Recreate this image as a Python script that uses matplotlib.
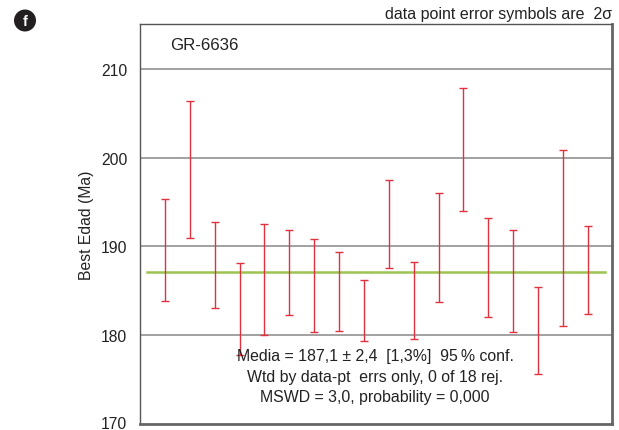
import matplotlib
matplotlib.use("Agg")
import matplotlib.pyplot as plt
from matplotlib.patches import Ellipse
from matplotlib.transforms import ScaledTranslation

plt.rcParams['font.family'] = ['Liberation Sans', 'DejaVu Sans']

# Data (2-sigma error bars)
grain = list(range(1, 19))
ages = [189.6, 198.7, 187.95, 182.95, 186.25, 187.1, 185.65, 184.95, 182.8,
        192.55, 183.9, 189.9, 200.95, 187.65, 186.15, 180.5, 190.95, 187.35]
err2s = [5.7, 7.7, 4.85, 5.15, 6.25, 4.8, 5.25, 4.45, 3.4,
         4.95, 4.3, 6.1, 6.95, 5.55, 5.75, 4.9, 9.95, 4.95]
mean_age = 187.1
yticks = [170, 180, 190, 200, 210]
sample = "GR-6636"
stats_lines = ["Media = 187,1 \u00b1 2,4  [1,3%]  95\u2009% conf.",
               "Wtd by data-pt  errs only, 0 of 18 rej.",
               "MSWD = 3,0, probability = 0,000"]

fig = plt.figure(figsize=(6.19, 4.31), dpi=100)
ax = fig.add_axes([140/619, 6/431, 472/619, 400/431])

ax.set_xlim(0, 18.97)
ax.set_ylim(170, 215.07)

for yv in yticks[1:]:
    ax.axhline(yv, color='#9a9a9a', lw=1.3, zorder=1)

ax.plot([0.28, 18.7], [mean_age, mean_age], color='#9cc450', lw=1.8, zorder=2)

ax.errorbar(grain, ages, yerr=err2s, fmt='none', ecolor='#e0313f',
            elinewidth=1.0, capsize=3.0, capthick=1.0, zorder=3)

ax.set_yticks(yticks)
ax.set_yticklabels([str(v) for v in yticks], fontsize=11.3, color='#222222')
ax.set_xticks([])
ax.tick_params(axis='y', length=0, pad=9)
# nudge the lowest label up slightly so it stays inside the figure
lab0 = ax.get_yticklabels()[0]
lab0.set_transform(lab0.get_transform() + ScaledTranslation(0, 2/100, fig.dpi_scale_trans))

for side in ['left', 'top']:
    ax.spines[side].set_color('#555555')
    ax.spines[side].set_linewidth(1.0)
for side in ['right', 'bottom']:
    ax.spines[side].set_color('#666666')
    ax.spines[side].set_linewidth(2.0)

ax.text(0.064, 0.95, sample, transform=ax.transAxes, fontsize=12.2,
        ha='left', va='center', color='#222222')

for i, line in enumerate(stats_lines):
    ax.text(0.498, (425 - 357 - i * 20.5) / 400, line, transform=ax.transAxes,
            fontsize=11.4, ha='center', va='center', color='#222222')

fig.text(86/619, 1 - 225/431, "Best Edad (Ma)", rotation=90, fontsize=11.3,
         ha='center', va='center', color='#222222')

fig.text(612/619, 1 - 14/431, "data point error symbols are  2\u03c3",
         fontsize=11.5, ha='right', va='center', color='#222222')

circ = Ellipse((25/619, 1 - 21.5/431), 22/619, 22/431, transform=fig.transFigure,
               facecolor='#231f20', edgecolor='none')
fig.patches.append(circ)
fig.text(25/619, 1 - 21.5/431, "f", fontsize=10.5, fontweight='bold',
         color='white', ha='center', va='center')

fig.savefig("out.png", dpi=100)
